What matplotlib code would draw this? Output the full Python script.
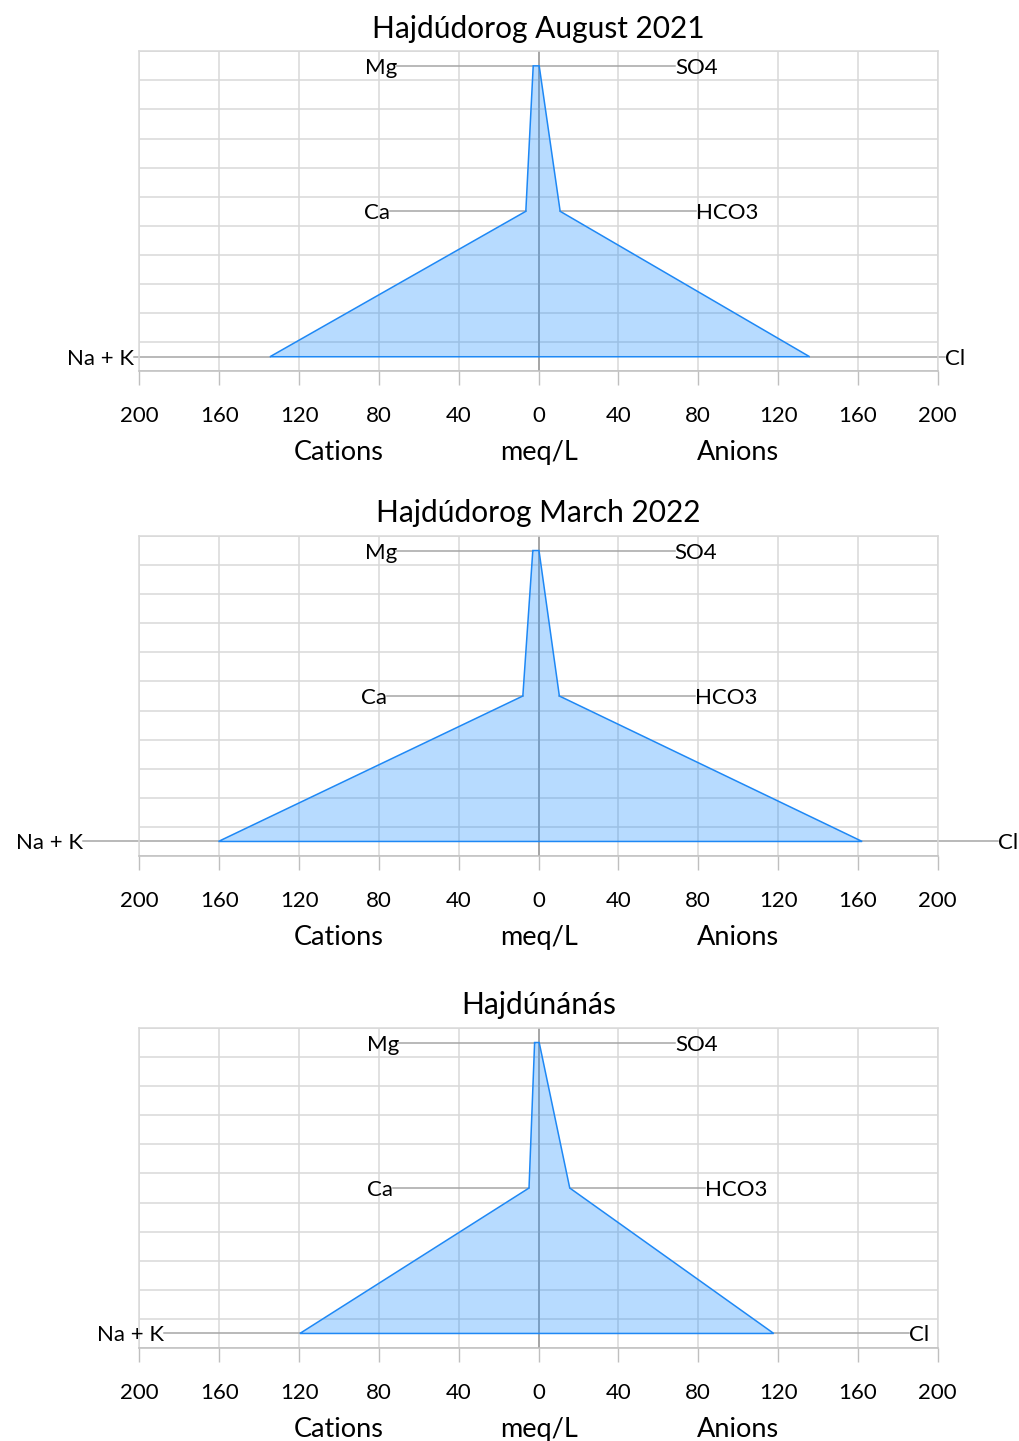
import matplotlib
matplotlib.use('Agg')
import matplotlib.pyplot as plt
import matplotlib.transforms as mtransforms

plt.rcParams['font.family'] = ['Lato', 'DejaVu Sans']

# Stiff diagram data, meq/L
titles = ['Hajdúdorog August 2021', 'Hajdúdorog March 2022', 'Hajdúnánás']
cation_names = ['Mg', 'Ca', 'Na + K']
anion_names = ['SO4', 'HCO3', 'Cl']
mg = [2.7, 2.9, 2.0]
ca = [6.4, 7.9, 4.8]
na_k = [134.6, 160.4, 119.6]
so4 = [0.3, 0.2, 0.3]
hco3 = [10.8, 10.4, 15.6]
cl = [135.8, 162.1, 117.8]

row_pos = [0.5, 5.5, 10.5]
x_ticks = [-200, -160, -120, -80, -40, 0, 40, 80, 120, 160, 200]
x_tick_labels = ['200', '160', '120', '80', '40', '0', '40', '80', '120', '160', '200']
label_offset = 68

GRID = '#d9d9d9'
AXIS = '#bfbfbf'
LEADER = '#a6a6a6'

fig = plt.figure(figsize=(10.19, 14.41), dpi=100)
W, H = 1019.0, 1441.0
bottoms_px = [371.3, 856.0, 1348.0]

for i in range(3):
    b = bottoms_px[i]
    ax = fig.add_axes([139.4 / W, 1 - b / H, 798.4 / W, 320 / H])
    ax.set_xlim(-200, 200)
    ax.set_ylim(11, 0)
    ax.set_axisbelow(True)

    # grid
    ax.set_yticks(range(12))
    ax.set_xticks(x_ticks)
    ax.set_xticklabels(x_tick_labels)
    ax.grid(True, color=GRID, linewidth=1.1)
    ax.tick_params(axis='y', length=0, labelleft=False)
    ax.tick_params(axis='x', length=10, width=1, color=AXIS, pad=15, labelsize=16)
    for s in ['left', 'right', 'top']:
        ax.spines[s].set_color(GRID)
        ax.spines[s].set_linewidth(1.1)
    ax.spines['bottom'].set_color(AXIS)
    ax.spines['bottom'].set_linewidth(1.1)
    ax.axvline(0, color=LEADER, linewidth=1.4, zorder=1.5)

    cat = [mg[i], ca[i], na_k[i]]
    an = [so4[i], hco3[i], cl[i]]

    # leader lines and ion labels
    for j in range(3):
        y = row_pos[j]
        ax.plot([-cat[j] - label_offset, -cat[j]], [y, y], color=LEADER, lw=1.1,
                zorder=2, clip_on=False)
        ax.plot([an[j], an[j] + label_offset], [y, y], color=LEADER, lw=1.1,
                zorder=2, clip_on=False)
        ax.text(-cat[j] - label_offset, y, cation_names[j], ha='right',
                va='center_baseline', fontsize=16, clip_on=False)
        ax.text(an[j] + label_offset, y, anion_names[j], ha='left',
                va='center_baseline', fontsize=16, clip_on=False)

    # polygon
    xs = [-v for v in cat] + an[::-1]
    ys = row_pos + row_pos[::-1]
    ax.fill(xs, ys, facecolor=(0.12, 0.56, 1.0, 0.32), edgecolor='#1e88f5',
            linewidth=1.1, zorder=3)

    trans = mtransforms.blended_transform_factory(ax.transData, ax.transAxes)
    ax.text(-100, -0.277, 'Cations', transform=trans, ha='center', va='baseline', fontsize=19.5)
    ax.text(0, -0.277, 'meq/L', transform=trans, ha='center', va='baseline', fontsize=19.5)
    ax.text(100, -0.277, 'Anions', transform=trans, ha='center', va='baseline', fontsize=19.5)
    ax.text(0.5, 1.0425, titles[i], transform=ax.transAxes, ha='center', va='baseline',
            fontsize=21.5)

fig.savefig('out.png', dpi=100)
